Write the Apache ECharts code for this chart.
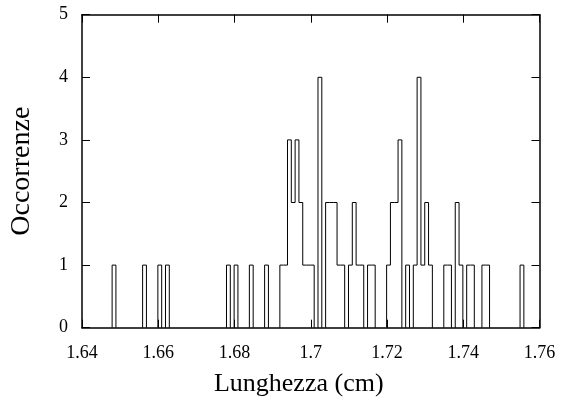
<!DOCTYPE html>
<html>
<head>
<meta charset="utf-8">
<script src="https://cdn.jsdelivr.net/npm/echarts@6/dist/echarts.min.js"></script>
<style>html,body{margin:0;padding:0;background:#fff;}#c{width:565px;height:417px;}</style>
</head>
<body>
<div id="c"></div>
<script>
// Histogram data: lower edge of each non-empty bin and its count
const binWidth = 0.001;
const binLow = [1.6479, 1.6559, 1.6599, 1.6619, 1.6779, 1.6799, 1.6839, 1.6879,
  1.6919, 1.6929, 1.6939, 1.6949, 1.6959, 1.6969, 1.6979, 1.6989, 1.6999,
  1.7019, 1.7039, 1.7049, 1.7059, 1.7069, 1.7079, 1.7099, 1.7109, 1.7119, 1.7129,
  1.7149, 1.7159, 1.7199, 1.7209, 1.7219, 1.7229, 1.7249, 1.7269, 1.7279, 1.7289,
  1.7299, 1.7309, 1.7349, 1.7359, 1.7379, 1.7389, 1.7409, 1.7419, 1.7449, 1.7459, 1.7549];
const binCount = [1, 1, 1, 1, 1, 1, 1, 1,
  1, 1, 3, 2, 3, 2, 1, 1, 1,
  4, 2, 2, 2, 1, 1, 1, 2, 1, 1,
  1, 1, 1, 2, 2, 3, 1, 1, 4, 1,
  2, 1, 1, 1, 2, 1, 1, 1, 1, 1, 1];
const xTicks = [1.64, 1.66, 1.68, 1.70, 1.72, 1.74, 1.76];
const yTicks = [0, 1, 2, 3, 4, 5];
const xTitle = 'Lunghezza (cm)';
const yTitle = 'Occorrenze';

// Build step outline from bins
const pts = [];
let prevHi = null;
for (let i = 0; i < binLow.length; i++) {
  const lo = binLow[i], hi = lo + binWidth, c = binCount[i];
  if (prevHi === null || Math.abs(lo - prevHi) > binWidth * 0.1) {
    if (prevHi !== null) { pts.push([prevHi, 0]); pts.push('-'); }
    pts.push([lo, 0]);
  }
  pts.push([lo, c]);
  pts.push([hi, c]);
  prevHi = hi;
}
pts.push([prevHi, 0]);

const font = 'Liberation Serif';
const axisLine = {show: true, onZero: false, lineStyle: {color: '#000', width: 1.5}};
const tick = {show: true, inside: true, length: 8, lineStyle: {color: '#000', width: 1}};

const chart = echarts.init(document.getElementById('c'), null, {renderer: 'canvas'});
chart.setOption({
  animation: false,
  backgroundColor: '#fff',
  grid: {left: 82, right: 25.5, top: 14.7, bottom: 89.3, containLabel: false},
  xAxis: [{
    type: 'value', position: 'bottom', min: xTicks[0], max: xTicks[xTicks.length - 1], interval: 0.02,
    axisLine: axisLine, axisTick: tick, splitLine: {show: false},
    axisLabel: {fontFamily: font, fontSize: 18, color: '#000', margin: 17,
      formatter: v => String(+v.toFixed(2))},
    name: xTitle, nameLocation: 'middle', nameGap: 43,
    nameTextStyle: {fontFamily: font, fontSize: 26, color: '#000', padding: [0, 24, 0, 0]}
  }, {
    type: 'value', position: 'top', min: xTicks[0], max: xTicks[xTicks.length - 1], interval: 0.02,
    axisLine: axisLine, axisTick: tick, splitLine: {show: false}, axisLabel: {show: false}
  }],
  yAxis: [{
    type: 'value', position: 'left', min: yTicks[0], max: yTicks[yTicks.length - 1], interval: 1,
    axisLine: axisLine, axisTick: tick, splitLine: {show: false},
    axisLabel: {fontFamily: font, fontSize: 18, color: '#000', margin: 14},
    name: yTitle, nameLocation: 'middle', nameGap: 46, nameRotate: 90,
    nameTextStyle: {fontFamily: font, fontSize: 28, color: '#000'}
  }, {
    type: 'value', position: 'right', min: yTicks[0], max: yTicks[yTicks.length - 1], interval: 1,
    axisLine: axisLine, axisTick: tick, splitLine: {show: false}, axisLabel: {show: false}
  }],
  series: [{
    type: 'line', xAxisIndex: 0, yAxisIndex: 0, data: pts, showSymbol: false, symbol: 'none',
    connectNulls: false, lineStyle: {color: '#000', width: 1}, silent: true
  }]
});
</script>
</body>
</html>
